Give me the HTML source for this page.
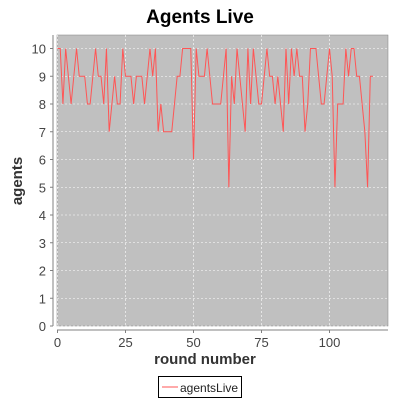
<!DOCTYPE html>
<html><head><meta charset="utf-8"><style>
body{margin:0;background:#fff;}
svg text{font-family:"Liberation Sans",sans-serif;}
</style></head><body>
<svg id="chart" width="400" height="400" xmlns="http://www.w3.org/2000/svg">
<text x="200" y="23" text-anchor="middle" font-size="19" font-weight="bold">Agents Live</text>
<rect x="57" y="35" width="331" height="291" fill="#c0c0c0" stroke="#808080" stroke-width="0.5"/>
<g id="grid"></g>
<g id="axes"></g>
<polyline id="line" fill="none" stroke="#ff5555" stroke-width="1"/>
<text x="205" y="364" text-anchor="middle" font-size="15" font-weight="bold" fill="#333">round number</text>
<text transform="translate(22,181) rotate(-90)" text-anchor="middle" font-size="15" font-weight="bold" fill="#333">agents</text>
<g>
<rect x="158.5" y="376.5" width="83" height="21" fill="#fff" stroke="#000"/>
<line x1="162" y1="387" x2="178" y2="387" stroke="#ff5555"/>
<text x="180" y="392" font-size="12" fill="#222">agentsLive</text>
</g>
</svg>
<script>
const values=[10,10,8,10,9,8,9,10,9,9,9,8,8,9,10,9,9,8,10,7,8,9,8,8,10,9,9,9,8,9,9,9,8,9,10,9,10,7,8,7,7,7,7,8,9,9,10,10,10,10,6,10,9,9,9,10,9,8,8,8,8,9,10,5,9,8,10,9,8,7,10,8,10,9,8,8,9,10,9,9,8,9,8,7,10,8,10,9,10,9,9,7,8,10,10,10,9,8,8,9,10,9,5,8,8,8,10,9,10,10,9,9,8,7,5,9,9];
const xTicks=[0,25,50,75,100];
const yTicks=[0,1,2,3,4,5,6,7,8,9,10];
const X0=57.5,XS=2.72,Y0=326,YS=27.75;
const sx=v=>X0+v*XS, sy=v=>Y0-v*YS;
const NS="http://www.w3.org/2000/svg";
const grid=document.getElementById('grid'),axes=document.getElementById('axes');
function mk(t,a,p){const e=document.createElementNS(NS,t);for(const k in a)e.setAttribute(k,a[k]);p.appendChild(e);return e;}
const ax=mk('line',{x1:53,y1:35,x2:53,y2:326,stroke:'#808080'},axes);


const ax2=mk('line',{x1:57,y1:330,x2:388,y2:330,stroke:'#808080'},axes);


yTicks.forEach(v=>{
 const g=mk('line',{x1:57,x2:388,y1:sy(v),y2:sy(v),stroke:'#fff','stroke-dasharray':'2,2','stroke-width':0.6},grid);
 
 
 mk('line',{x1:50,x2:53,y1:sy(v),y2:sy(v),stroke:'#808080'},axes);
 const t=mk('text',{x:46,y:sy(v)+5,'text-anchor':'end','font-size':13,fill:'#444'},axes);t.textContent=v;
 
 
});
xTicks.forEach(v=>{
 const g=mk('line',{y1:35,y2:326,x1:sx(v),x2:sx(v),stroke:'#fff','stroke-dasharray':'2,2','stroke-width':0.6},grid);
 
 
 mk('line',{y1:330,y2:333,x1:sx(v),x2:sx(v),stroke:'#808080'},axes);
 const t=mk('text',{x:sx(v),y:347,'text-anchor':'middle','font-size':13,fill:'#444'},axes);t.textContent=v;
 
 
});
document.getElementById('line').setAttribute('points',values.map((v,i)=>sx(i)+','+sy(v)).join(' '));
</script>
</body></html>
